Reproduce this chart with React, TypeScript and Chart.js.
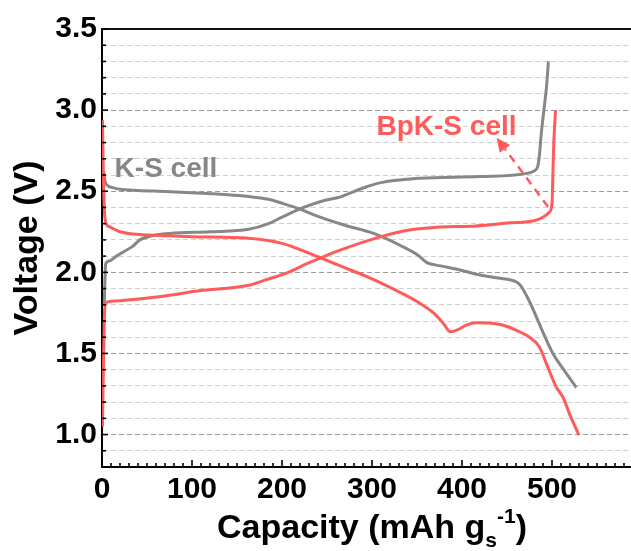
import React, { useEffect, useRef } from 'react';
import { Chart, registerables } from 'chart.js';

Chart.register(...registerables);

// ---- data (capacity in mAh g-1, voltage in V) ----
const bpkDischargeCap = [0.5, 1.5, 2.5, 4, 8.5, 20, 30, 52, 100, 163, 199, 220, 240, 260, 300, 330, 350, 369, 380, 387, 395, 405, 416, 430, 445, 460, 475, 486, 495, 505, 512, 520, 530];
const bpkDischargeV = [2.94, 2.6, 2.4, 2.31, 2.28, 2.25, 2.24, 2.23, 2.22, 2.21, 2.18, 2.14, 2.096, 2.05, 1.96, 1.88, 1.82, 1.747, 1.68, 1.633, 1.645, 1.675, 1.689, 1.688, 1.675, 1.644, 1.6, 1.54, 1.42, 1.29, 1.232, 1.12, 0.996];

const bpkChargeCap = [0.5, 1.5, 2.5, 3.5, 6, 19.5, 63.5, 108, 163, 180, 207, 229, 266, 310, 340, 376, 416, 453, 480, 490, 497, 500, 501, 502, 504];
const bpkChargeV = [1.05, 1.4, 1.7, 1.8, 1.818, 1.825, 1.85, 1.886, 1.92, 1.95, 2.0, 2.056, 2.14, 2.22, 2.26, 2.28, 2.286, 2.305, 2.318, 2.34, 2.37, 2.42, 2.6, 2.8, 3.0];

const ksDischargeCap = [2, 3, 5, 12, 20, 40, 71, 120, 163, 185, 200, 220, 240, 270, 302, 330, 350, 361, 376, 398, 420, 440, 460, 465, 475, 490, 501, 513, 527];
const ksDischargeV = [2.62, 2.57, 2.54, 2.522, 2.512, 2.505, 2.498, 2.485, 2.467, 2.45, 2.426, 2.39, 2.345, 2.29, 2.24, 2.17, 2.11, 2.06, 2.04, 2.014, 1.983, 1.965, 1.942, 1.92, 1.82, 1.63, 1.5, 1.4, 1.29];

const ksChargeCap = [2.5, 3, 4, 8, 16, 25, 34, 42, 55, 75, 120, 163, 185, 200, 224, 245, 266, 290, 310, 354, 420, 472, 480, 484, 486, 488, 491, 494, 496];
const ksChargeV = [1.8, 1.9, 2.05, 2.07, 2.1, 2.13, 2.16, 2.2, 2.225, 2.24, 2.25, 2.265, 2.3, 2.34, 2.4, 2.44, 2.467, 2.52, 2.553, 2.58, 2.59, 2.61, 2.625, 2.65, 2.72, 2.85, 3.0, 3.15, 3.3];

const xTickLabels = [0, 100, 200, 300, 400, 500];
const yTickLabels = ['1.0', '1.5', '2.0', '2.5', '3.0', '3.5'];

const labelTexts = ['K-S cell', 'BpK-S cell'];
const labelCap = [14, 305];
const labelV = [2.59, 2.848];

const arrowFrom = [495.5, 2.405];
const arrowTo = [438.5, 2.83];

// ---- styles ----
const RED = '#ff5b5b';
const GRAY = '#878787';
const FONT = '"Liberation Sans", Arial, Helvetica, sans-serif';

const zip = (xs: number[], ys: number[]) => xs.map((x, i) => ({ x, y: ys[i] }));

const decorPlugin = {
  id: 'decor',
  afterDraw(chart: any) {
    const { ctx, chartArea: a, scales } = chart;
    const xs = scales.x;
    const ys = scales.y;
    ctx.save();
    // top frame line
    ctx.strokeStyle = '#111';
    ctx.lineWidth = 2;
    ctx.beginPath();
    ctx.moveTo(a.left, a.top);
    ctx.lineTo(a.right, a.top);
    ctx.stroke();

    // inner tick marks
    ctx.strokeStyle = '#000';
    ctx.lineWidth = 1.6;
    for (let i = 8; i <= 35; i++) {
      const y = ys.getPixelForValue(i / 10);
      const len = i % 5 === 0 ? 6 : 4;
      ctx.beginPath();
      ctx.moveTo(a.left, y);
      ctx.lineTo(a.left + len, y);
      ctx.stroke();
    }
    for (let c = 0; c <= 600; c += 10) {
      const x = xs.getPixelForValue(c);
      const len = c % 100 === 0 ? 7 : 4;
      ctx.beginPath();
      ctx.moveTo(x, a.bottom);
      ctx.lineTo(x, a.bottom - len);
      ctx.stroke();
    }

    // annotation labels
    ctx.font = `bold 28px ${FONT}`;
    ctx.textBaseline = 'alphabetic';
    ctx.textAlign = 'left';
    const labelColors = [GRAY, RED];
    labelTexts.forEach((t, i) => {
      ctx.fillStyle = labelColors[i];
      ctx.fillText(t, xs.getPixelForValue(labelCap[i]), ys.getPixelForValue(labelV[i]));
    });

    // dashed arrow
    const x1 = xs.getPixelForValue(arrowFrom[0]);
    const y1 = ys.getPixelForValue(arrowFrom[1]);
    const x2 = xs.getPixelForValue(arrowTo[0]);
    const y2 = ys.getPixelForValue(arrowTo[1]);
    const ang = Math.atan2(y2 - y1, x2 - x1);
    const headLen = 14;
    const headW = 6.5;
    const bx = x2 - headLen * Math.cos(ang);
    const by = y2 - headLen * Math.sin(ang);
    ctx.strokeStyle = RED;
    ctx.fillStyle = RED;
    ctx.lineWidth = 2.5;
    ctx.setLineDash([8, 6]);
    ctx.beginPath();
    ctx.moveTo(x1, y1);
    ctx.lineTo(bx, by);
    ctx.stroke();
    ctx.setLineDash([]);
    ctx.beginPath();
    ctx.moveTo(x2, y2);
    ctx.lineTo(bx + headW * Math.sin(ang), by - headW * Math.cos(ang));
    ctx.lineTo(bx - headW * Math.sin(ang), by + headW * Math.cos(ang));
    ctx.closePath();
    ctx.fill();

    // x axis title with subscript / superscript
    const big = `bold 34px ${FONT}`;
    const small = `bold 21px ${FONT}`;
    const parts = [
      { t: 'Capacity (mAh g', f: big, dy: 0 },
      { t: 's', f: small, dy: 9 },
      { t: '-1', f: small, dy: -15 },
      { t: ')', f: big, dy: 0 },
    ];
    let total = 0;
    const widths = parts.map((p) => {
      ctx.font = p.f;
      const w = ctx.measureText(p.t).width;
      total += w;
      return w;
    });
    let px = (a.left + a.right) / 2 - total / 2;
    const base = a.bottom + 71;
    ctx.fillStyle = '#000';
    parts.forEach((p, i) => {
      ctx.font = p.f;
      ctx.fillText(p.t, px, base + p.dy);
      px += widths[i];
    });
    ctx.restore();
  },
};

export default function App() {
  const ref = useRef<HTMLCanvasElement | null>(null);

  useEffect(() => {
    const canvas = ref.current;
    if (!canvas) return;
    const line = (label: string, data: any, color: string) => ({
      label,
      data,
      borderColor: color,
      backgroundColor: color,
      borderWidth: 3,
      pointRadius: 0,
      showLine: true,
      fill: false,
      cubicInterpolationMode: 'monotone' as const,
    });
    const chart = new Chart(canvas, {
      type: 'scatter',
      data: {
        datasets: [
          line('BpK-S discharge', zip(bpkDischargeCap, bpkDischargeV), RED),
          line('BpK-S charge', zip(bpkChargeCap, bpkChargeV), RED),
          line('K-S discharge', zip(ksDischargeCap, ksDischargeV), GRAY),
          line('K-S charge', zip(ksChargeCap, ksChargeV), GRAY),
        ],
      },
      options: {
        animation: false,
        responsive: false,
        devicePixelRatio: 1,
        layout: { padding: { top: 29, left: 0, right: 0, bottom: 0 } },
        plugins: { legend: { display: false }, tooltip: { enabled: false } },
        scales: {
          x: {
            type: 'linear',
            min: 0,
            max: 600,
            afterFit: (s: any) => {
              s.height = 84;
            },
            ticks: {
              stepSize: 100,
              autoSkip: false,
              maxRotation: 0,
              padding: 5,
              color: '#000',
              font: { family: FONT, size: 30, weight: 'bold' },
              callback: (v: any) => (xTickLabels.includes(Number(v)) ? String(v) : ''),
            },
            grid: { display: false, drawTicks: false },
            border: { display: true, color: '#000', width: 2 },
            title: { display: false },
          },
          y: {
            type: 'linear',
            min: 0.8,
            max: 3.5,
            afterFit: (s: any) => {
              s.width = 102;
            },
            ticks: {
              stepSize: 0.1,
              autoSkip: false,
              padding: 5,
              color: '#000',
              font: { family: FONT, size: 30, weight: 'bold' },
              callback: (v: any) => {
                const s = Number(v).toFixed(1);
                return yTickLabels.includes(s) ? s : '';
              },
            },
            grid: {
              drawTicks: false,
              lineWidth: 1,
              color: (c: any) => {
                const v = Math.round((c.tick?.value ?? 0) * 10);
                if (v <= 8 || v >= 35) return 'rgba(0,0,0,0)';
                return v % 5 === 0 ? '#9a9a9a' : '#d0d0d0';
              },
            },
            border: { display: true, color: '#000', width: 2, dash: [5, 3] },
            title: {
              display: true,
              text: 'Voltage (V)',
              color: '#000',
              font: { family: FONT, size: 34, weight: 'bold' },
              padding: { top: 7, bottom: 0 },
            },
          },
        },
      },
      plugins: [decorPlugin],
    });
    return () => chart.destroy();
  }, []);

  return (
    <div style={{ position: 'fixed', left: 0, top: 0, width: 631, height: 551, overflow: 'hidden', background: '#fff' }}>
      <canvas ref={ref} width={647} height={551} style={{ display: 'block' }} />
    </div>
  );
}
